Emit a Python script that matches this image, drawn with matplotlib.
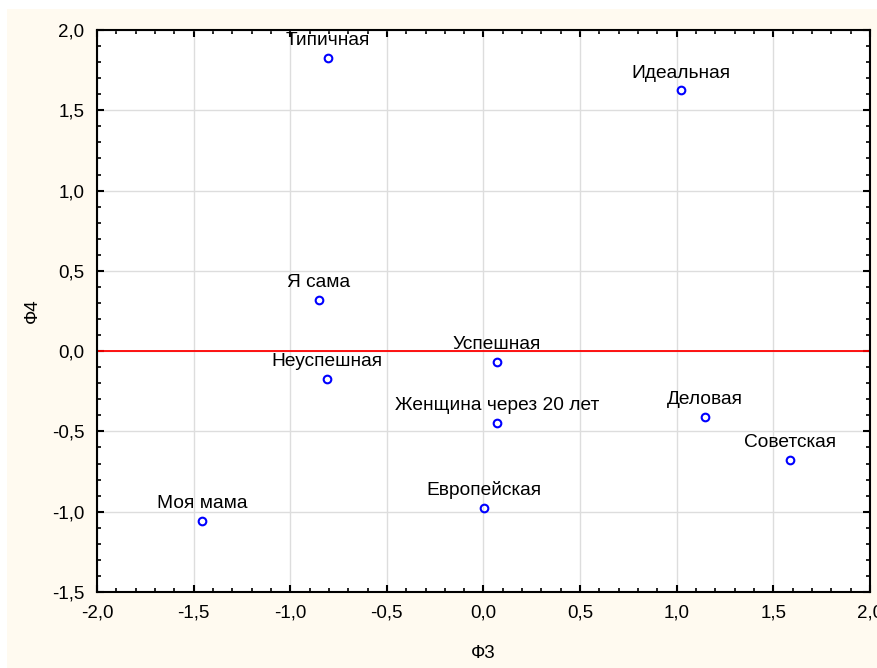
import numpy as np
import matplotlib
matplotlib.use('Agg')
import matplotlib.pyplot as plt
from matplotlib.ticker import MultipleLocator, FuncFormatter
from matplotlib.patches import Rectangle

plt.rcParams['font.family'] = ['Liberation Sans', 'DejaVu Sans']

# data
names = ['Типичная', 'Идеальная', 'Я сама', 'Неуспешная', 'Успешная',
         'Женщина через 20 лет', 'Деловая', 'Советская', 'Европейская', 'Моя мама']
f3 = [-0.805, 1.022, -0.851, -0.810, 0.070, 0.070, 1.146, 1.586, 0.003, -1.457]
f4 = [1.826, 1.626, 0.319, -0.173, -0.067, -0.447, -0.410, -0.677, -0.976, -1.057]

fig = plt.figure(figsize=(8.78, 6.68), dpi=100)
fig.patch.set_facecolor('white')
# cream backdrop with a thin white margin at top/left
fig.patches.append(Rectangle((7/878, 0), 1, 1 - 9/668, transform=fig.transFigure,
                             facecolor='#FFFAF0', edgecolor='none', zorder=-10))

ax = fig.add_axes([97/878, 1 - 592/668, (870-97)/878, (592-30)/668])
ax.set_facecolor('white')

ax.set_xlim(-2, 2)
ax.set_ylim(-1.5, 2)
ax.xaxis.set_major_locator(MultipleLocator(0.5))
ax.yaxis.set_major_locator(MultipleLocator(0.5))
ax.xaxis.set_minor_locator(MultipleLocator(0.1))
ax.yaxis.set_minor_locator(MultipleLocator(0.1))
fmt = FuncFormatter(lambda v, p: ('%.1f' % v).replace('.', ',').replace('−', '-'))
ax.xaxis.set_major_formatter(fmt)
ax.yaxis.set_major_formatter(fmt)

ax.grid(True, which='major', color='#DDDDDD', lw=1)
ax.set_axisbelow(True)
ax.tick_params(which='both', direction='in', top=True, right=True, labelsize=13.5, color='black')
ax.tick_params(which='major', length=5, width=1.5, pad=9)
ax.tick_params(which='minor', length=3, width=1.2)
for s in ax.spines.values():
    s.set_linewidth(1.5)

ax.axhline(0, color='red', lw=1.3, zorder=2)
ax.plot(f3, f4, 'o', mfc='none', mec='blue', ms=5.5, mew=1.5, zorder=3)
for n, x, y in zip(names, f3, f4):
    ax.annotate(n, (x, y), xytext=(0, 9), textcoords='offset points',
                ha='center', va='baseline', fontsize=13.8, zorder=4)

ax.set_xlabel('Ф3', fontsize=13.5, labelpad=17)
ax.set_ylabel('Ф4', fontsize=13.5, labelpad=8)

fig.savefig('out.png', dpi=100)
